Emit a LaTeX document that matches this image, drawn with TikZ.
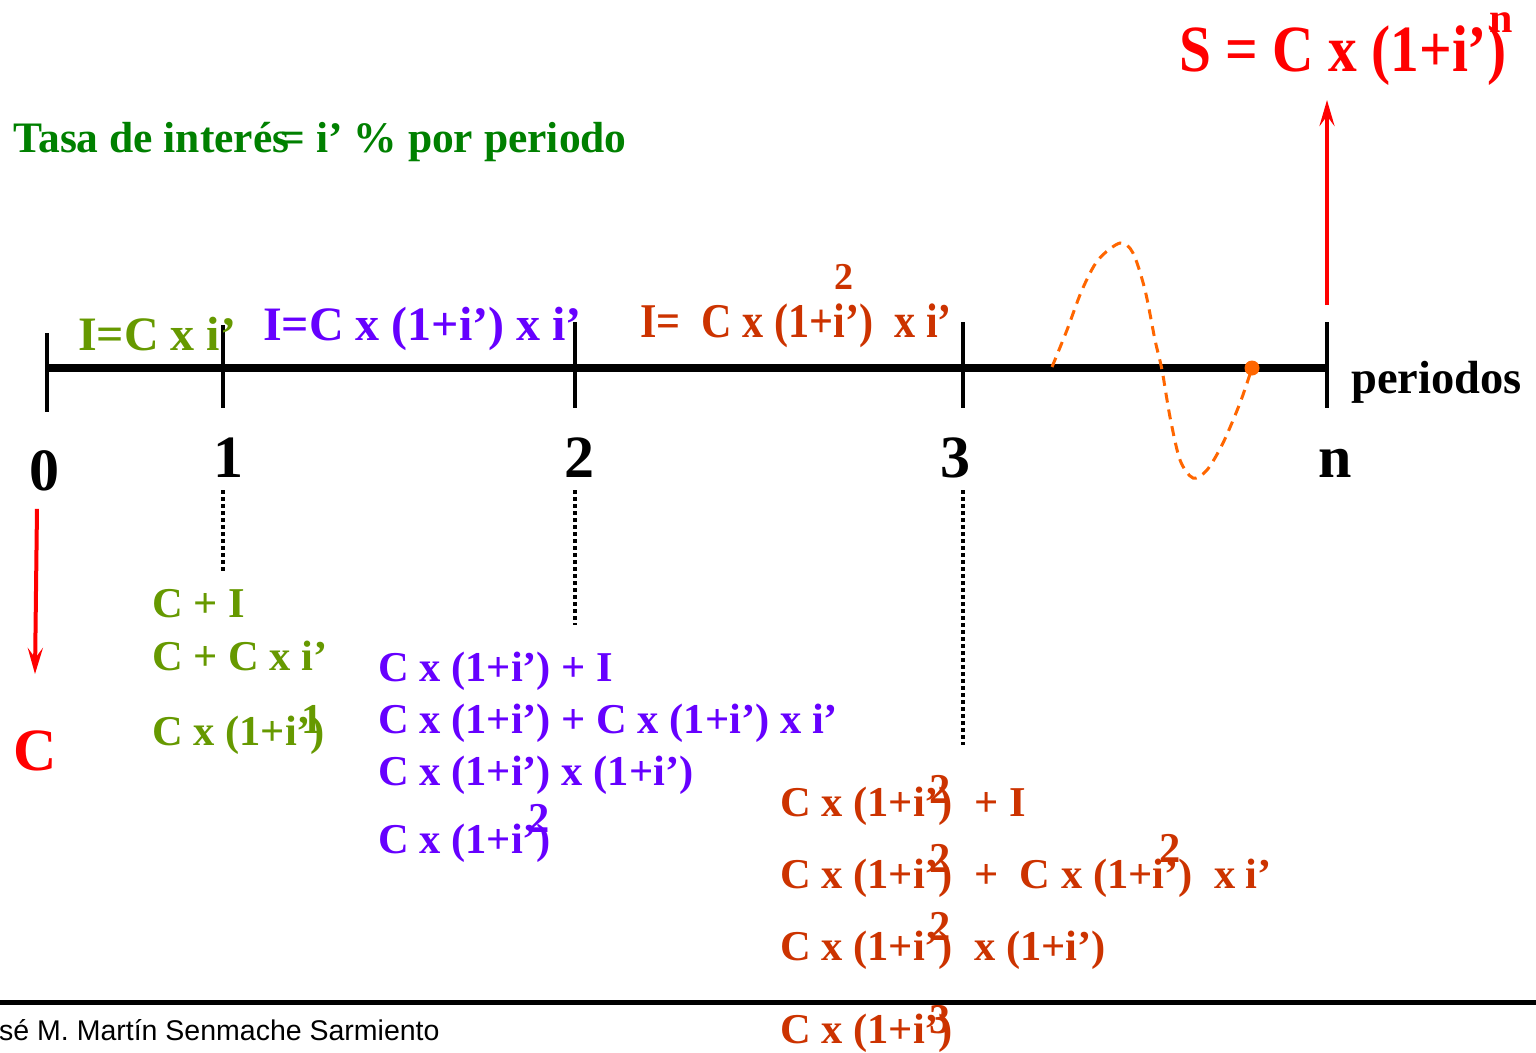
\documentclass[tikz,border=0pt]{standalone}
\usepackage{fontspec}
\setmainfont{Liberation Serif}
\newfontfamily\slimserif{Liberation Serif}[FakeStretch=0.87]
\newfontfamily\footfont{Liberation Sans}
\usetikzlibrary{arrows.meta,calc}

\definecolor{rategreen}{HTML}{008000}
\definecolor{stepone}{HTML}{669900}
\definecolor{steptwo}{HTML}{6600FF}
\definecolor{stepthree}{HTML}{CC3300}
\definecolor{flowred}{HTML}{FF0000}
\definecolor{waveorange}{HTML}{FF6600}

\newcommand{\fsz}[1]{\fontsize{#1}{#1}\selectfont}
% exponent set over the closing bracket
\newcommand{\expo}[3]{\rlap{\kern#1\raisebox{#2}{#3}}}

\begin{document}
\begin{tikzpicture}[x=1pt,y=-1pt,
    txt/.style={inner sep=0pt, anchor=base west, font=\bfseries\fsz{42.5}},
    num/.style={inner sep=0pt, anchor=base, font=\bfseries\fsz{60}},
    tick/.style={line width=4.5pt},
    guide/.style={line width=4.5pt, dash pattern=on 4pt off 3pt},
    flow/.style={flowred, line width=4pt, -{Stealth[length=26pt,width=15pt,inset=10pt]}}]

  \useasboundingbox (0,0) rectangle (1536,1052);

  % Rate
  \node[inner sep=0pt, anchor=base west, text=rategreen, font=\bfseries\fsz{43.5}] (rate) at (13,152) {Tasa de interés\kern-9pt= i’ \% por periodo};

  % Final amount
  \node[inner sep=0pt, anchor=base west, text=flowred, font=\slimserif\bfseries\fsz{66}] (sform) at (1179,71) {S = C x (1+i’)};
  \node[inner sep=0pt, anchor=base, text=flowred, font=\bfseries\fsz{42}] (sexp) at (1501,32) {n};

  % Time line
  \foreach \name/\x in {t0/47, t1/223, t2/575, t3/963, tn/1327}
    \coordinate (\name) at (\x,368);
  \draw[line width=8pt] (t0) -- (tn);
  \foreach \name/\up/\dn in {t0/35/44, t1/43/40, t2/46/40, t3/46/40, tn/46/40}
    \draw[tick] ($(\name)+(0,-\up)$) -- ($(\name)+(0,\dn)$);

  % Period numbers
  \foreach \name/\x/\y/\txt in {n0/44/490/0, n1/228/477/1, n2/579/477/2, n3/955/477/3, nn/1335/477/n}
    \node[num] (\name) at (\x,\y) {\txt};
  \node[inner sep=0pt, anchor=base west, font=\bfseries\fsz{46.5}] (per) at (1351,393) {periodos};

  % Interest per period
  \node[txt, text=stepone, font=\bfseries\fsz{48}] (i1) at (78,350) {I=C x i’};
  \node[txt, text=steptwo, font=\bfseries\fsz{48}] (i2) at (263,340) {I=C x (1+i’) x i’};
  \node[txt, text=stepthree, font=\slimserif\bfseries\fsz{48.5}] (i3) at (640,337) {I=\ \ C x (1+i’)\ \ x i’};
  \node[inner sep=0pt, anchor=base, text=stepthree, font=\bfseries\fsz{38}] (i3exp) at (844,289) {2};

  % Wave
  \draw[waveorange, line width=3pt, dash pattern=on 10pt off 7pt] plot[smooth] coordinates {
    (1052,367) (1067,330) (1082,290) (1098,260) (1120,243) (1133,253) (1145,290)
    (1155,340) (1162,370) (1170,417) (1180,460) (1193,478) (1207,470) (1223,443)
    (1240,403) (1252,368)};
  \fill[waveorange] (1252,368) circle (7.5);

  % Cash flows
  \node[num, text=flowred] (cap) at (35,770) {C};
  \draw[flow] ([xshift=-7pt,yshift=-18pt]n0.south) -- ([yshift=56pt]cap.north);
  \coordinate (nflow) at (1327,305);
  \coordinate (stip) at (1327,100);
  \draw[flow] (nflow) -- (stip);

  % Guides
  \foreach \x/\yb in {223/572, 575/625, 963/745}
    \draw[guide] (\x,490) -- (\x,\yb);

  % Period 1
  \node[txt, text=stepone] (a1) at (152,617) {C + I};
  \node[txt, text=stepone] (a2) at (152,670) {C + C x i’};
  \node[txt, text=stepone] (a3) at (152,745) {C x (1+i’\expo{-9pt}{12pt}{1})};

  % Period 2
  \node[txt, text=steptwo] (b1) at (378,681) {C x (1+i’) + I};
  \node[txt, text=steptwo] (b2) at (378,733) {C x (1+i’) + C x (1+i’) x i’};
  \node[txt, text=steptwo] (b3) at (378,785) {C x (1+i’) x (1+i’)};
  \node[txt, text=steptwo] (b4) at (378,853) {C x (1+i’\expo{-8pt}{21pt}{2})};

  % Period 3
  \node[txt, text=stepthree] (c1) at (780,816) {C x (1+i’\expo{-9pt}{13pt}{2})\ \ + I};
  \node[txt, text=stepthree] (c2) at (780,888) {C x (1+i’\expo{-9pt}{16pt}{2})\ \ +\ \ C x (1+i’\expo{-19pt}{26pt}{2})\ \ x i’};
  \node[txt, text=stepthree] (c3) at (780,960) {C x (1+i’\expo{-9pt}{20pt}{2})\ \ x (1+i’)};
  \node[txt, text=stepthree] (c4) at (780,1043) {C x (1+i’\expo{-9pt}{10pt}{3})};

  % Footer
  \draw[line width=5pt] (0,1002) -- (1536,1002);
  \node[inner sep=0pt, anchor=base west, font=\footfont\fsz{28.5}] (author) at (-1,1040) {sé M. Martín Senmache Sarmiento};
\end{tikzpicture}
\end{document}
